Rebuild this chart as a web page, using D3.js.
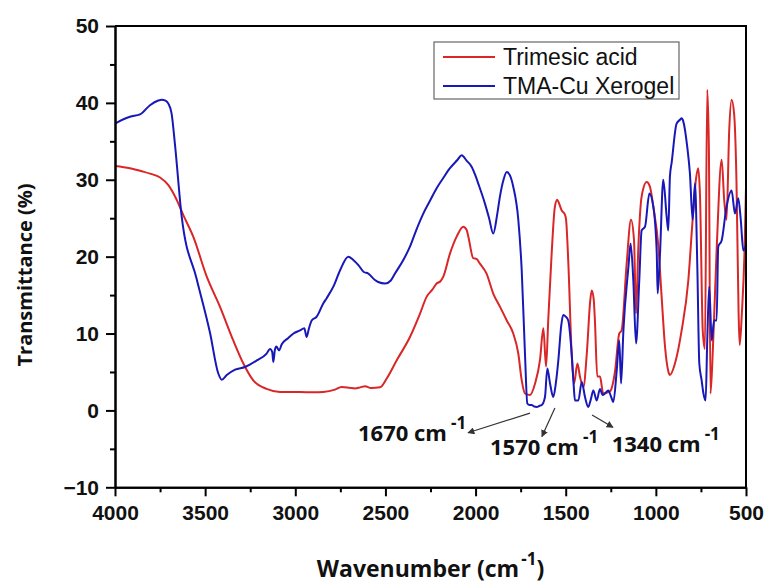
<!DOCTYPE html>
<meta charset="utf-8">
<script src="https://d3js.org/d3.v7.min.js"></script>
<style>
  body { margin: 0; background: #fff; }
</style>
<div id="my_dataviz"></div>
<script>

  // ---- data ----
  // Trimesic acid (red)
  var redWn = [4000, 3917, 3850, 3806, 3750, 3704, 3658, 3621, 3566, 3491, 3418, 3344, 3288, 3233, 3159, 3085, 2974, 2900, 2845, 2780, 2743, 2700, 2669, 2640, 2613, 2580, 2530, 2493, 2438, 2364, 2308, 2271, 2240, 2216, 2195, 2179, 2142, 2105, 2068, 2050, 2040, 2013, 1995, 1976, 1939, 1902, 1865, 1827, 1791, 1763, 1744, 1726, 1698, 1670, 1643, 1624, 1609, 1597, 1578, 1560, 1547, 1535, 1522, 1505, 1498, 1486, 1467, 1454, 1435, 1421, 1402, 1383, 1365, 1356, 1345, 1338, 1325, 1310, 1292, 1254, 1227, 1203, 1190, 1162, 1138, 1121, 1110, 1097, 1079, 1051, 1033, 1014, 986, 968, 949, 930, 922, 894, 857, 820, 796, 778, 765, 755, 740, 728, 715, 706, 697, 684, 663, 635, 621, 608, 593, 580, 566, 553, 541, 535, 523, 508, 500];
  var redT = [31.8, 31.5, 31.1, 30.8, 30.3, 29.3, 27.4, 25.4, 22.6, 17.4, 13.5, 9.1, 6.1, 3.9, 2.8, 2.4, 2.4, 2.35, 2.4, 2.7, 3.05, 2.95, 2.85, 3.0, 3.15, 2.9, 3.0, 4.15, 6.5, 9.55, 12.6, 14.8, 15.7, 16.5, 16.8, 17.4, 20.4, 22.6, 23.9, 23.5, 22.6, 19.8, 19.7, 19.1, 17.8, 15.2, 13.5, 11.7, 10.0, 7.4, 3.9, 2.2, 2.0, 3.5, 6.5, 10.7, 5.7, 11.7, 20.4, 26.5, 27.4, 26.8, 26.0, 25.5, 24.8, 19.5, 7.4, 3.5, 6.1, 4.4, 3.05, 7.4, 14.0, 15.6, 14.5, 11.7, 4.4, 4.4, 2.2, 2.5, 5.0, 10.0, 10.4, 19.1, 24.8, 22.1, 12.6, 21.3, 27.8, 29.7, 29.1, 26.5, 21.3, 14.8, 8.25, 5.0, 4.6, 6.1, 10.4, 16.9, 24.8, 30.0, 31.5, 27.8, 10.4, 8.0, 41.7, 34.3, 2.2, 7.8, 20.8, 32.6, 27.4, 24.8, 36.5, 40.4, 38.6, 30.0, 12.6, 8.5, 12.6, 20.8, 29.0];

  // TMA-Cu Xerogel (blue)
  var blueWn = [4000, 3950, 3917, 3861, 3806, 3760, 3741, 3720, 3704, 3686, 3667, 3630, 3547, 3473, 3427, 3408, 3380, 3334, 3279, 3214, 3159, 3140, 3128, 3122, 3113, 3105, 3090, 3075, 3040, 3010, 2974, 2950, 2937, 2925, 2909, 2881, 2845, 2826, 2789, 2752, 2706, 2680, 2650, 2620, 2595, 2560, 2540, 2502, 2470, 2447, 2400, 2364, 2330, 2290, 2250, 2216, 2180, 2142, 2100, 2077, 2050, 2022, 2000, 1985, 1948, 1925, 1902, 1880, 1865, 1845, 1827, 1810, 1791, 1763, 1744, 1726, 1713, 1700, 1689, 1675, 1661, 1645, 1633, 1615, 1602, 1587, 1569, 1555, 1541, 1525, 1514, 1500, 1486, 1467, 1455, 1449, 1430, 1411, 1393, 1375, 1360, 1347, 1328, 1310, 1295, 1282, 1264, 1250, 1236, 1217, 1203, 1193, 1180, 1152, 1140, 1125, 1110, 1092, 1079, 1060, 1036, 1014, 995, 990, 977, 959, 940, 931, 922, 912, 885, 866, 857, 848, 826, 811, 796, 783, 770, 759, 746, 736, 724, 715, 704, 690, 677, 663, 654, 635, 608, 580, 561, 543, 529, 515, 500];
  var blueT = [37.3, 37.9, 38.2, 38.5, 39.7, 40.3, 40.4, 40.3, 39.9, 38.6, 34.5, 25.2, 17.1, 10.1, 4.8, 4.0, 4.6, 5.3, 5.65, 6.5, 7.4, 8.0, 7.6, 6.3, 7.9, 8.3, 7.8, 8.6, 9.4, 10.0, 10.4, 10.7, 9.55, 10.6, 11.7, 12.2, 13.9, 14.6, 16.1, 18.2, 20.0, 19.6, 18.9, 18.0, 17.8, 17.0, 16.7, 16.5, 16.9, 17.8, 19.6, 21.3, 23.4, 25.6, 27.4, 28.9, 30.2, 31.5, 32.6, 33.2, 32.5, 31.7, 30.5, 29.5, 26.9, 25.0, 23.0, 25.5, 27.8, 30.0, 31.0, 30.6, 29.1, 24.8, 18.2, 7.4, 0.9, 0.7, 0.7, 0.5, 0.45, 0.6, 0.7, 1.75, 5.45, 3.5, 1.75, 3.5, 6.5, 11.0, 12.4, 12.2, 11.7, 7.4, 3.0, 1.3, 1.3, 3.7, 1.75, 0.45, 1.5, 2.6, 1.3, 2.8, 2.0, 2.2, 2.6, 1.9, 1.1, 5.2, 9.1, 3.5, 10.4, 18.7, 21.7, 16.9, 8.7, 16.9, 23.4, 23.9, 28.2, 26.5, 20.4, 15.2, 20.4, 30.0, 25.2, 23.4, 30.4, 32.3, 37.3, 37.8, 38.0, 37.6, 34.3, 30.8, 24.8, 29.5, 18.7, 6.1, 3.9, 2.2, 1.3, 9.1, 16.1, 9.1, 11.7, 11.7, 21.3, 22.1, 26.5, 28.6, 25.6, 27.6, 24.8, 20.8, 21.5];

  var seriesNames = ["Trimesic acid", "TMA-Cu Xerogel"];
  var seriesColors = ["#d92626", "#1818b8"];

  var wnTicks = [4000, 3500, 3000, 2500, 2000, 1500, 1000, 500];
  var wnMinor = [3750, 3250, 2750, 2250, 1750, 1250, 750];
  var tTicks = [-10, 0, 10, 20, 30, 40, 50];
  var tMinor = [-5, 5, 15, 25, 35, 45];

  // band annotations: label, label anchor (wn, T), arrow tail (wn, T), arrow head (wn, T)
  var annLabels = ["1670", "1570", "1340"];
  var annAt = [[2652, -4.0], [1920, -5.85], [1245, -5.4]];
  var annFrom = [[1698, -0.35], [1560, 0.3], [1354, -0.6]];
  var annTo = [[2042, -2.9], [1632, -3.4], [1238, -2.2]];

  // set the dimensions and margins of the graph
  var margin = { top: 26, left: 115 },
    width = 631,
    height = 461.3;

  var svg = d3.select("#my_dataviz")
    .append("svg")
    .attr("width", 766)
    .attr("height", 583)
    .append("g")
    .attr("transform", "translate(" + margin.left + "," + margin.top + ")");

  var x = d3.scaleLinear().domain([4000, 500]).range([0, width]);
  var y = d3.scaleLinear().domain([-10, 50]).range([height, 0]);

  var defs = svg.append("defs");
  defs.append("clipPath").attr("id", "clip")
    .append("rect").attr("width", width).attr("height", height);

  defs.append("marker")
    .attr("id", "arrow")
    .attr("viewBox", "0 0 10 10")
    .attr("refX", 9).attr("refY", 5)
    .attr("markerWidth", 7).attr("markerHeight", 7)
    .attr("markerUnits", "userSpaceOnUse")
    .attr("orient", "auto")
    .append("path").attr("d", "M0,0L10,5L0,10z").attr("fill", "#333");

  // lines
  var line = d3.line()
    .x(function (d) { return x(d[0]); })
    .y(function (d) { return y(d[1]); })
    .curve(d3.curveMonotoneX);

  var plot = svg.append("g").attr("clip-path", "url(#clip)");
  [[redWn, redT], [blueWn, blueT]].forEach(function (s, i) {
    plot.append("path")
      .datum(d3.zip(s[0], s[1]))
      .attr("fill", "none")
      .attr("stroke", seriesColors[i])
      .attr("stroke-width", 2)
      .attr("stroke-linejoin", "round")
      .attr("d", line);
  });

  // frame (top + right)
  svg.append("path")
    .attr("d", "M0,0H" + width + "V" + height)
    .attr("fill", "none").attr("stroke", "#000").attr("stroke-width", 2);

  // axes
  svg.append("g")
    .attr("transform", "translate(0," + height + ")")
    .call(d3.axisBottom(x).tickValues(wnTicks).tickFormat(d3.format("d"))
      .tickSize(9).tickPadding(9).tickSizeOuter(0));
  svg.append("g")
    .attr("transform", "translate(0," + height + ")")
    .call(d3.axisBottom(x).tickValues(wnMinor).tickSize(5).tickFormat("").tickSizeOuter(0));
  svg.append("g")
    .call(d3.axisLeft(y).tickValues(tTicks).tickFormat(d3.format("d"))
      .tickSize(9).tickPadding(7).tickSizeOuter(0));
  svg.append("g")
    .call(d3.axisLeft(y).tickValues(tMinor).tickSize(5).tickFormat("").tickSizeOuter(0));

  svg.selectAll(".domain").attr("stroke-width", 2).attr("stroke", "#000");
  svg.selectAll(".tick line").attr("stroke-width", 2).attr("stroke", "#000");
  svg.selectAll(".tick text")
    .attr("font-family", "'Liberation Sans', Arial, sans-serif")
    .attr("font-size", 21)
    .attr("font-weight", "bold")
    .attr("fill", "#111");

  // axis titles
  var xt = svg.append("text")
    .attr("x", width / 2)
    .attr("y", 576.7 - margin.top)
    .attr("text-anchor", "middle")
    .attr("font-family", "'Open Sans', sans-serif")
    .attr("font-weight", "bold")
    .attr("font-size", 23)
    .attr("fill", "#111");
  xt.append("tspan").text("Wavenumber (cm");
  xt.append("tspan").attr("font-size", 17).attr("dy", -12).attr("dx", 2).text("-1");
  xt.append("tspan").attr("dy", 12).text(")");

  svg.append("text")
    .attr("transform", "translate(" + (32 - margin.left) + "," + (275 - margin.top) + ") rotate(-90)")
    .attr("text-anchor", "middle")
    .attr("font-family", "'Open Sans', sans-serif")
    .attr("font-weight", "bold")
    .attr("font-size", 20)
    .attr("fill", "#111")
    .text("Transmittance (%)");

  // annotations
  annLabels.forEach(function (lab, i) {
    svg.append("line")
      .attr("x1", x(annFrom[i][0])).attr("y1", y(annFrom[i][1]))
      .attr("x2", x(annTo[i][0])).attr("y2", y(annTo[i][1]))
      .attr("stroke", "#333").attr("stroke-width", 1.2)
      .attr("marker-end", "url(#arrow)");
    var t = svg.append("text")
      .attr("x", x(annAt[i][0]))
      .attr("y", y(annAt[i][1]))
      .attr("font-family", "'Open Sans', sans-serif")
      .attr("font-weight", "bold")
      .attr("font-size", 22)
      .attr("fill", "#111");
    t.append("tspan").text(lab + " cm");
    t.append("tspan").attr("font-size", 17).attr("dx", 4).attr("dy", -12).text("-1");
  });

  // legend
  var lg = svg.append("g").attr("transform", "translate(" + (434 - margin.left) + "," + (42 - margin.top) + ")");
  lg.append("rect")
    .attr("width", 245).attr("height", 57)
    .attr("fill", "#fff").attr("stroke", "#666").attr("stroke-width", 1.2);
  seriesNames.forEach(function (n, i) {
    var cy = 15 + i * 29;
    lg.append("line")
      .attr("x1", 9).attr("x2", 61).attr("y1", cy).attr("y2", cy)
      .attr("stroke", seriesColors[i]).attr("stroke-width", 2);
    lg.append("text")
      .attr("x", 69).attr("y", cy + 8)
      .attr("font-family", "'Liberation Sans', Arial, sans-serif")
      .attr("font-size", 23)
      .attr("fill", "#111")
      .text(n);
  });

</script>
